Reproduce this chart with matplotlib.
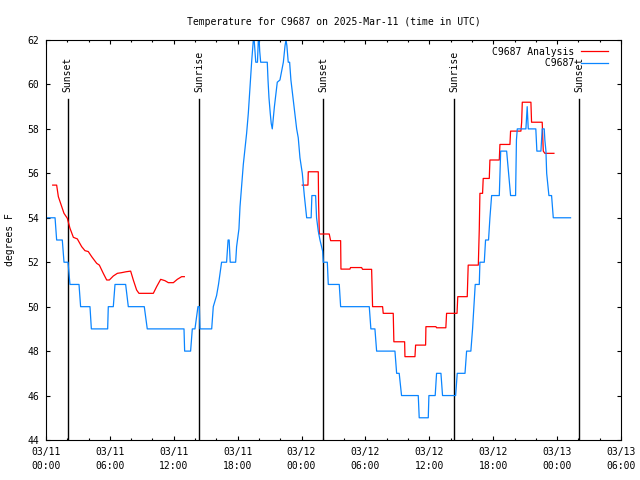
import numpy as np
import matplotlib
matplotlib.use("Agg")
import matplotlib.pyplot as plt
from matplotlib.dates import HourLocator, DateFormatter
from matplotlib.ticker import MultipleLocator

plt.rcParams["font.family"] = ["DejaVu Sans Mono"]
plt.rcParams["font.size"] = 7

station = "C9687"
start = np.datetime64("2025-03-11T00:00")
span_hours = 54

# observed temperature (hours after 03/11 00:00 UTC, degrees F)
obs_hours = [0.0, 0.85, 1.0, 1.53, 1.69, 2.07, 2.25, 3.1, 3.25, 4.13, 4.26, 5.79,
             5.85, 6.32, 6.48, 7.48, 7.73, 9.23, 9.51, 12.96, 13.02, 13.58, 13.74,
             13.99, 14.27, 14.4, 14.46, 15.56, 15.71, 16.02, 16.2, 16.49, 16.96,
             17.1, 17.2, 17.3, 17.81, 17.9, 18.12, 18.22, 18.53, 18.84, 19.0, 19.15,
             19.31, 19.47, 19.55, 19.62, 19.7, 19.86, 19.94, 20.02, 20.07, 20.16,
             20.78, 20.85, 20.94, 21.06, 21.15, 21.25, 21.35, 21.45, 21.6, 21.72,
             21.97, 22.13, 22.29, 22.45, 22.54, 22.62, 22.75, 22.88, 23.0, 23.2,
             23.38, 23.54, 23.69, 23.85, 24.07, 24.26, 24.48, 24.9, 24.97, 25.32,
             25.41, 25.57, 25.73, 25.98, 26.04, 26.42, 26.51, 27.54, 27.67, 30.36,
             30.51, 30.89, 31.05, 32.77, 32.93, 33.17, 33.39, 34.96, 35.05, 35.9,
             35.96, 36.55, 36.68, 37.09, 37.24, 38.47, 38.62, 39.35, 39.5, 39.9,
             40.06, 40.31, 40.69, 40.75, 41.16, 41.28, 41.56, 41.69, 41.85, 42.57,
             42.63, 42.7, 43.26, 43.35, 43.45, 43.63, 44.1, 44.18, 44.26, 45.07,
             45.19, 45.29, 46.0, 46.1, 46.48, 46.6, 46.79, 46.85, 46.95, 47.02,
             47.23, 47.48, 47.64, 49.26]
obs_temp = [54, 54, 53, 53, 52, 52, 51, 51, 50, 50, 49, 49,
            50, 50, 51, 51, 50, 50, 49, 49, 48, 48, 49,
            49, 50, 50, 49, 49, 50, 50.5, 51, 52, 52,
            53, 53, 52, 52, 52.7, 53.5, 54.5, 56.4, 57.8, 58.7, 59.8,
            61, 62, 62, 61.5, 61, 61, 62, 62, 61.5, 61,
            61, 60.2, 59.4, 58.7, 58.25, 58.0, 58.5, 59.0, 59.6, 60.1,
            60.2, 60.6, 61, 61.75, 62, 61.75, 61, 61, 60.2, 59.4,
            58.7, 58.0, 57.6, 56.7, 56, 55, 54, 54, 55, 55,
            54, 53.4, 53, 52.5, 52, 52, 51, 51, 50, 50,
            49, 49, 48, 48, 47, 47, 46, 46, 45, 45,
            46, 46, 47, 47, 46, 46, 47, 47, 48, 48,
            49, 51, 51, 52, 52, 53, 53, 54, 55, 55,
            56, 57, 57, 56.5, 56, 55, 55, 57.5, 58, 58,
            59, 58, 58, 57, 57, 58, 58, 57.5, 57, 56,
            55, 55, 54, 54]

# analysis temperature (nan = no analysis)
ana_hours = [0.63, 1.0, 1.16, 1.69, 2.0, 2.25, 2.57, 2.94, 3.35, 3.66, 3.97, 4.29,
             4.76, 5.01, 5.38, 5.7, 5.95, 6.32, 6.7, 7.1, 7.51, 7.95, 8.2, 8.51,
             8.73, 10.08, 10.39, 10.77, 11.17, 11.49, 11.96, 12.33, 12.74, 12.99,
             18.0,
             24.07, 24.6, 24.63, 25.57, 25.6, 25.67, 26.6, 26.73, 27.67, 27.7, 28.54,
             28.6, 29.64, 29.73, 30.58, 30.67, 31.61, 31.67, 32.61, 32.67, 33.68,
             33.71, 34.65, 34.71, 35.65, 35.68, 36.62, 36.68, 37.55, 37.62, 38.6,
             38.67, 39.56, 39.65, 40.6, 40.69, 40.75, 41.0, 41.06, 41.63, 41.69,
             42.57, 42.63, 43.57, 43.63, 44.6, 44.67, 44.73, 45.54, 45.6, 46.6,
             46.7, 46.85, 47.7]
ana_temp = [55.47, 55.47, 54.95, 54.2, 53.98, 53.53, 53.12, 53.05, 52.7, 52.52, 52.48, 52.25,
            51.95, 51.87, 51.5, 51.2, 51.2, 51.38, 51.5, 51.53, 51.57, 51.6, 51.2, 50.75,
            50.6, 50.6, 50.9, 51.23, 51.17, 51.08, 51.08, 51.23, 51.35, 51.35,
            np.nan,
            55.47, 55.47, 56.07, 56.07, 54.65, 53.27, 53.27, 52.97, 52.97, 51.69, 51.69,
            51.76, 51.76, 51.68, 51.68, 50.0, 50.0, 49.7, 49.7, 48.42, 48.42,
            47.75, 47.75, 48.27, 48.27, 49.1, 49.1, 49.05, 49.05, 49.7, 49.7,
            50.45, 50.45, 51.87, 51.87, 53.48, 55.1, 55.1, 55.77, 55.77, 56.6,
            56.6, 57.3, 57.3, 57.9, 57.9, 58.3, 59.2, 59.2, 58.3, 58.3,
            57.0, 56.9, 56.9]

sun_hours = [2.02, 14.39, 26.04, 38.34, 50.05]
sun_labels = ["Sunset", "Sunrise", "Sunset", "Sunrise", "Sunset"]


def to_time(hours):
    return start + (np.array(hours) * 3600).astype("timedelta64[s]")


fig = plt.figure(figsize=(6.4, 4.8), dpi=100)
ax = fig.add_axes([46 / 640, 40 / 480, 575 / 640, 400 / 480])

for t, name in zip(sun_hours, sun_labels):
    x = to_time(t)
    ax.axvline(x, ymax=0.8525, color="black", lw=1.0)
    ax.text(x, 0.87, name, transform=ax.get_xaxis_transform(), rotation=90,
            ha="center", va="bottom")

red, = ax.plot(to_time(ana_hours), ana_temp, color="#ff0000", lw=0.9)
blue, = ax.plot(to_time(obs_hours), obs_temp, color="#0a85ff", lw=0.9)

ax.set_xlim(to_time(0), to_time(span_hours))
ax.set_ylim(44, 62)
ax.yaxis.set_major_locator(MultipleLocator(2))
ax.xaxis.set_major_locator(HourLocator(byhour=range(0, 24, 6)))
ax.xaxis.set_minor_locator(HourLocator(byhour=range(0, 24, 2)))
ax.xaxis.set_major_formatter(DateFormatter("%m/%d\n%H:%M"))
ax.tick_params(which="both", direction="in", top=True, right=True, width=0.8)
ax.tick_params(which="major", length=3, pad=5)
ax.tick_params(which="minor", length=1.5)
for lbl in ax.get_xticklabels():
    lbl.set_linespacing(1.45)
for sp in ax.spines.values():
    sp.set_linewidth(0.8)

ax.set_ylabel("degrees F")
ax.yaxis.set_label_coords(-0.054, 0.5)
ax.set_title("Temperature for %s on 2025-Mar-11 (time in UTC)" % station,
             fontsize=7, pad=11)

label2 = " " * 9 + station
ax.legend([red, blue], [station + " Analysis", label2], loc="upper right",
          bbox_to_anchor=(1 - 6 / 575, 1), frameon=False, markerfirst=False,
          handlelength=2.8, handletextpad=0.7, labelspacing=0.15,
          borderaxespad=0.4, borderpad=0.3)

fig.savefig("out.png", dpi=100)
